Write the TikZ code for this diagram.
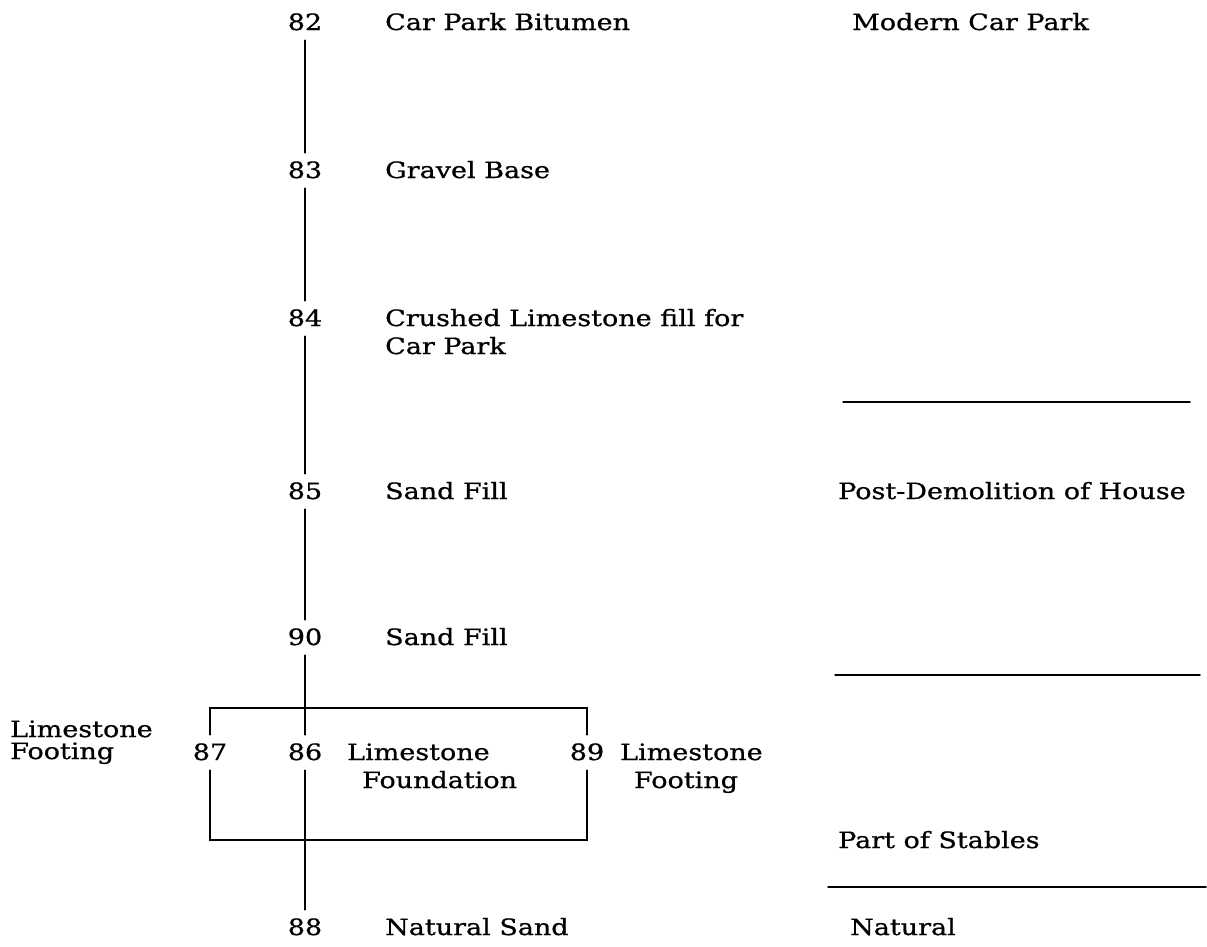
\documentclass[tikz,border=0pt]{standalone}
\usepackage{fontspec}
\setmainfont[FakeStretch=1.2,FakeBold=0.8]{DejaVu Serif}
\begin{document}
\begin{tikzpicture}[x=1pt,y=-1pt,
  txt/.style={font=\fontsize{22.5}{28}\selectfont, inner sep=0pt, anchor=base west},
  num/.style={font=\fontsize{22.5}{28}\selectfont, anchor=base, inner xsep=0pt, inner ysep=10pt, text height=15pt, text depth=0pt},
  ln/.style={line width=1.5pt, line cap=round}]
\useasboundingbox (0,0) rectangle (1207,946);
% numbers
\node[num] (n82) at (305,30) {82};
\node[num] (n83) at (305,178) {83};
\node[num] (n84) at (305,326) {84};
\node[num] (n85) at (305,499) {85};
\node[num] (n90) at (305,645) {90};
\node[num] (n86) at (305,760) {86};
\node[num] (n88) at (305,935) {88};
\node[num] (n87) at (210,760) {87};
\node[num] (n89) at (587,760) {89};
% labels
\node[txt] (l82) at (385,30) {Car Park Bitumen};
\node[txt] (l83) at (385,178) {Gravel Base};
\node[txt] (l84) at (385,326) {Crushed Limestone fill for};
\node[txt] (l84b) at (385,354) {Car Park};
\node[txt] (l85) at (385,499) {Sand Fill};
\node[txt] (l90) at (385,645) {Sand Fill};
\node[txt] (l86) at (347,760) {Limestone};
\node[txt] (l86b) at (362,788) {Foundation};
\node[txt] (l88) at (385,935) {Natural Sand};
\node[txt] (l87) at (10,737) {Limestone};
\node[txt] (l87b) at (10,759) {Footing};
\node[txt] (l89) at (620,760) {Limestone};
\node[txt, anchor=base] (l89b) at (686,788) {Footing};
% phases
\node[txt] (p1) at (852,30) {Modern Car Park};
\node[txt] (p2) at (838,499) {Post-Demolition of House};
\node[txt] (p3) at (838,848) {Part of Stables};
\node[txt] (p4) at (850,935) {Natural};
% vertical sequence
\draw[ln] (n82.south) -- (n83.north);
\draw[ln] (n83.south) -- (n84.north);
\draw[ln] (n84.south) -- (n85.north);
\draw[ln] (n85.south) -- (n90.north);
\draw[ln] (n90.south) -- (n86.north);
\draw[ln] (n86.south) -- (n88.north);
% box
\coordinate (tl) at (210,708);
\coordinate (tr) at (587,708);
\coordinate (bl) at (210,840);
\coordinate (br) at (587,840);
\draw[ln] (n87.north) -- (tl) -- (tr) -- (n89.north);
\draw[ln] (n87.south) -- (bl) -- (br) -- (n89.south);
% phase dividers
\coordinate (d1a) at (843,402); \coordinate (d1b) at (1190,402);
\coordinate (d2a) at (835,675); \coordinate (d2b) at (1200,675);
\coordinate (d3a) at (828,887); \coordinate (d3b) at (1206,887);
\draw[ln] (d1a) -- (d1b);
\draw[ln] (d2a) -- (d2b);
\draw[ln] (d3a) -- (d3b);
\end{tikzpicture}
\end{document}
